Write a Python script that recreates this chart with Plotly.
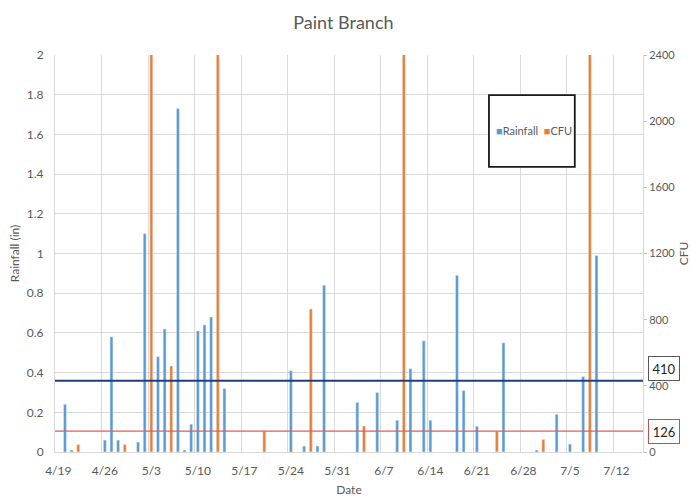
import plotly.graph_objects as go
import pandas as pd

# ---------------- data ----------------
year = "2019"
rain_dates = ["04-20", "04-21", "04-26", "04-27", "04-28", "05-01", "05-02", "05-04",
              "05-05", "05-07", "05-08", "05-09", "05-10", "05-11", "05-12", "05-14",
              "05-24", "05-26", "05-28", "05-29", "06-03", "06-06", "06-09", "06-11",
              "06-13", "06-14", "06-18", "06-19", "06-21", "06-25", "06-30", "07-03",
              "07-05", "07-07", "07-09"]
rain_values = [0.24, 0.01, 0.06, 0.58, 0.06, 0.05, 1.10, 0.48,
               0.62, 1.73, 0.01, 0.14, 0.61, 0.64, 0.68, 0.32,
               0.41, 0.03, 0.03, 0.84, 0.25, 0.30, 0.16, 0.42,
               0.56, 0.16, 0.89, 0.31, 0.13, 0.55, 0.01, 0.19,
               0.04, 0.38, 0.99]

cfu_dates = ["04-22", "04-29", "05-03", "05-06", "05-13", "05-20", "05-27", "06-04",
             "06-10", "06-24", "07-01", "07-08"]
cfu_values = [45, 45, 3000, 520, 3200, 125, 865, 157,
              2900, 125, 75, 3100]

week_ticks = ["04-19", "04-26", "05-03", "05-10", "05-17", "05-24", "05-31",
              "06-07", "06-14", "06-21", "06-28", "07-05", "07-12"]
week_labels = ["4/19", "4/26", "5/3", "5/10", "5/17", "5/24", "5/31",
               "6/7", "6/14", "6/21", "6/28", "7/5", "7/12"]

ref_levels_cfu = [430, 126]
ref_labels = ["410", "126"]

# ---------------- styling ----------------
BLUE = "#5B9BD5"
ORANGE = "#ED7D31"
GRID = "#D9D9D9"
TXT = "#595959"
FONT = "Lato, Noto Sans, sans-serif"
DAY_MS = 86400000

rain_x = pd.to_datetime([f"{year}-{d}" for d in rain_dates])
cfu_x = pd.to_datetime([f"{year}-{d}" for d in cfu_dates])
tick_x = pd.to_datetime([f"{year}-{d}" for d in week_ticks])
grid_x = tick_x - pd.Timedelta(hours=12)

fig = go.Figure()
fig.add_trace(go.Bar(x=rain_x, y=rain_values, name="Rainfall", marker_color=BLUE,
                     width=0.44 * DAY_MS, yaxis="y", showlegend=False))
fig.add_trace(go.Bar(x=cfu_x, y=cfu_values, name="CFU", marker_color=ORANGE,
                     width=0.44 * DAY_MS, yaxis="y2", showlegend=False))

x_start = tick_x[0] - pd.Timedelta(hours=12)
x_end = tick_x[0] + pd.Timedelta(days=88)

fig.update_layout(
    width=691, height=498,
    margin=dict(l=55, r=48, t=55, b=46, autoexpand=False),
    paper_bgcolor="white", plot_bgcolor="white",
    font=dict(family=FONT, size=11, color=TXT),
    barmode="overlay",
    title=dict(text="Paint Branch", x=0.497, xref="container", y=0.955,
               yref="container", yanchor="middle", xanchor="center",
               font=dict(size=18, color=TXT)),
    xaxis=dict(
        type="date", range=[x_start, x_end], automargin=False,
        tickmode="array", tickvals=tick_x, ticktext=week_labels,
        showgrid=False, ticks="outside", ticklen=8, tickcolor="rgba(0,0,0,0)",
        minor=dict(tickmode="array", tickvals=grid_x, showgrid=True,
                   gridcolor=GRID, gridwidth=1, ticks=""),
        showline=True, linecolor=GRID, linewidth=1,
        tickfont=dict(size=12, color=TXT),
        title=dict(text="Date", font=dict(size=12, color=TXT), standoff=8),
    ),
    yaxis=dict(
        range=[0, 2], dtick=0.2, showgrid=True, gridcolor=GRID, gridwidth=1,
        zeroline=False, showline=True, linecolor=GRID, automargin=False,
        ticks="outside", ticklen=8, tickcolor="rgba(0,0,0,0)",
        tickfont=dict(size=12, color=TXT),
        title=dict(text="Rainfall (in)", font=dict(size=12, color=TXT), standoff=4),
    ),
    yaxis2=dict(
        range=[0, 2400], dtick=400, overlaying="y", side="right",
        showgrid=False, zeroline=False, showline=True, linecolor=GRID,
        automargin=False,
        ticks="outside", ticklen=3, tickcolor="#BFBFBF",
        tickfont=dict(size=11, color=TXT),
        title=dict(text="CFU", font=dict(size=12, color=TXT), standoff=8),
    ),
)

# reference lines
line_styles = [dict(color="#203E7A", width=2), dict(color="#E25C5C", width=1.2)]
for lvl, st in zip(ref_levels_cfu, line_styles):
    fig.add_shape(type="line", xref="paper", x0=0, x1=1, yref="y2", y0=lvl, y1=lvl,
                  line=st, layer="above")

# labelled boxes at the right
box_y = [0.2103, 0.0504]
box_border = ["#595959", "#C0504D"]
for lab, yy, bc in zip(ref_labels, box_y, box_border):
    fig.add_annotation(text=lab, xref="paper", yref="paper", x=1.0357, y=yy,
                       showarrow=False, xanchor="center", yanchor="middle",
                       width=24, height=17, borderpad=3, borderwidth=1,
                       bordercolor=bc, bgcolor="white",
                       font=dict(size=13, color="#262626", family=FONT))

# legend box
fig.add_shape(type="rect", xref="paper", yref="paper",
              x0=0.738, x1=0.884, y0=0.718, y1=0.899,
              line=dict(color="#1A1A1A", width=1.8), fillcolor="white", layer="above")
fig.add_annotation(
    xref="paper", yref="paper", x=0.8146, y=0.8086, showarrow=False,
    xanchor="center", yanchor="middle",
    text=(f'<span style="color:{BLUE};font-size:11px">■</span>'
          f'<span style="color:{TXT}">Rainfall  </span>'
          f'<span style="color:{ORANGE};font-size:11px">■</span>'
          f'<span style="color:{TXT}">CFU</span>'),
    font=dict(size=11, family=FONT, color=TXT),
)

fig.write_html("out.html",
               config={"displayModeBar": False},
               post_script="document.body.style.margin='0';document.body.style.padding='0';")
